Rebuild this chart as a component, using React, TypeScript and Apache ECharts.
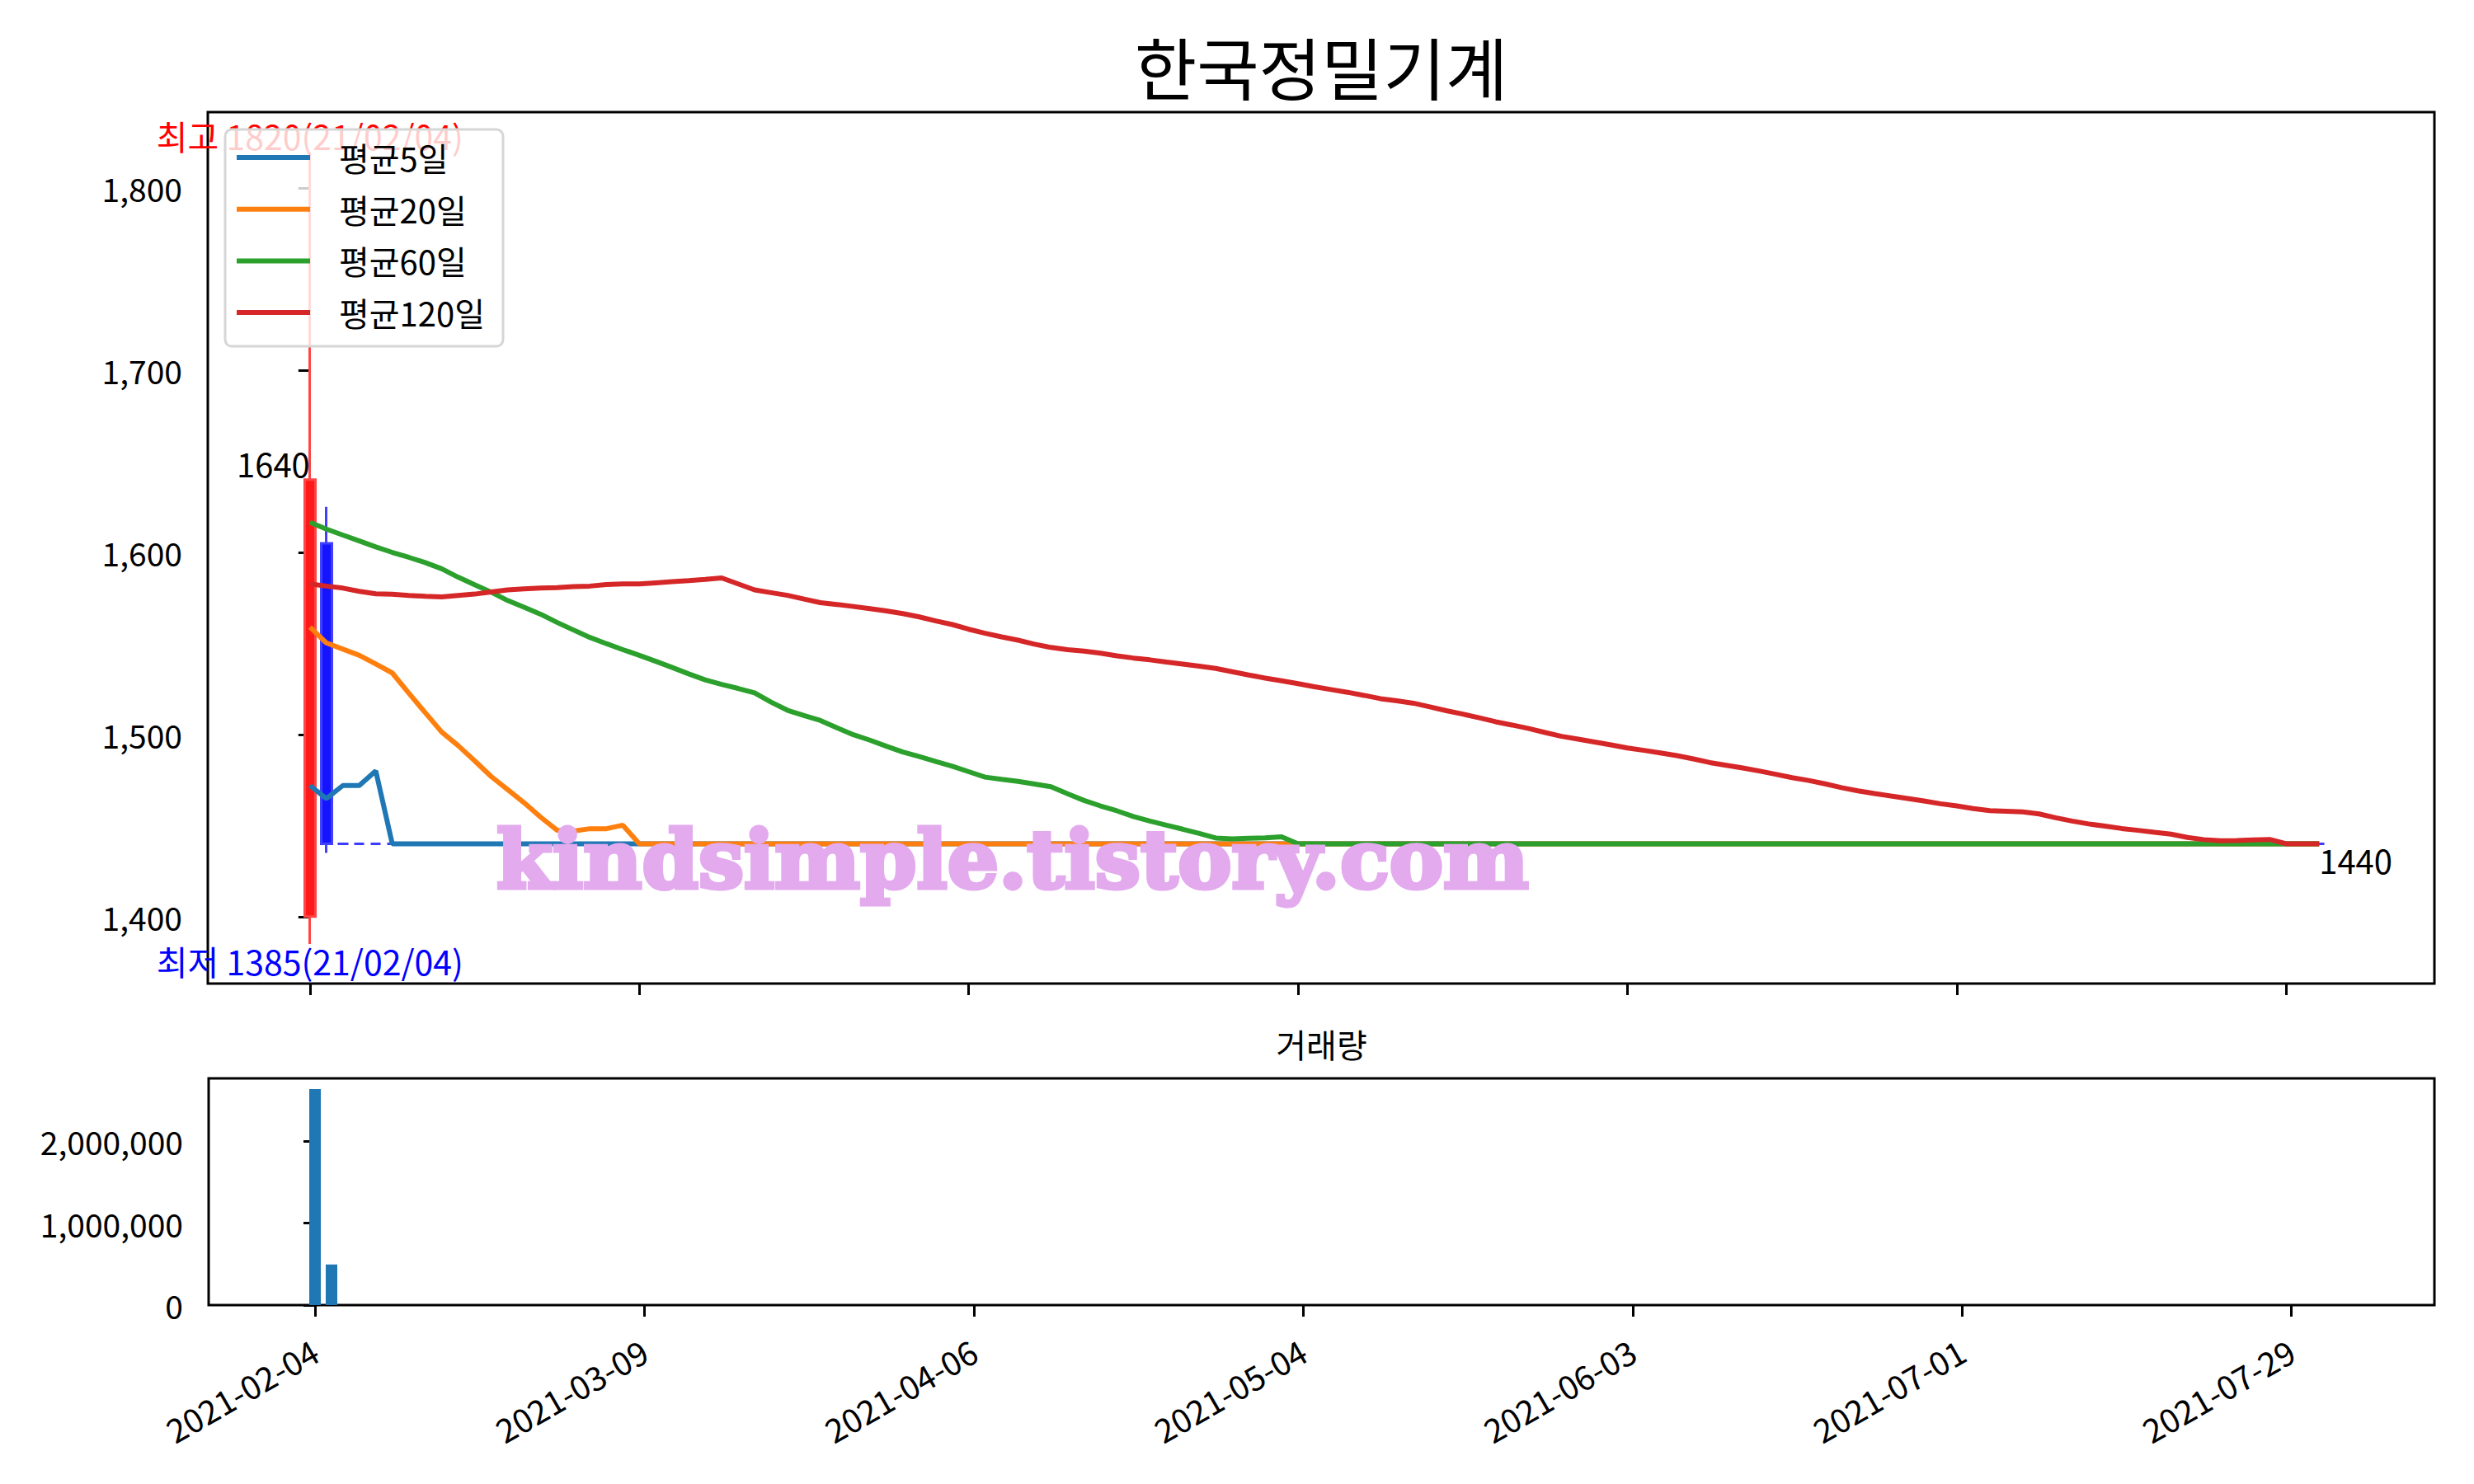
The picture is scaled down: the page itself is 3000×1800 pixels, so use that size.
import React, { useEffect, useRef } from 'react';
import * as echarts from 'echarts';

const TITLE = '한국정밀기계';
const VOLUME_TITLE = '거래량';
const WATERMARK = 'kindsimple.tistory.com';
const FIRST_DATE_SHORT = '21/02/04';

const TICK_INDEX = [0, 20, 40, 60, 80, 100, 120];
const TICK_LABELS = ['2021-02-04', '2021-03-09', '2021-04-06', '2021-05-04', '2021-06-03', '2021-07-01', '2021-07-29'];
const PRICE_TICKS = [1400, 1500, 1600, 1700, 1800];
const VOLUME_TICKS = [0, 1000000, 2000000];
const MA_NAMES = ['평균5일', '평균20일', '평균60일', '평균120일'];
const MA_COLORS = ['#1f77b4', '#ff7f0e', '#2ca02c', '#d62728'];

const OPEN = [1400, 1605,
  1440, 1440, 1440, 1440, 1440, 1440, 1440, 1440, 1440, 1440,
  1440, 1440, 1440, 1440, 1440, 1440, 1440, 1440, 1440, 1440,
  1440, 1440, 1440, 1440, 1440, 1440, 1440, 1440, 1440, 1440,
  1440, 1440, 1440, 1440, 1440, 1440, 1440, 1440, 1440, 1440,
  1440, 1440, 1440, 1440, 1440, 1440, 1440, 1440, 1440, 1440,
  1440, 1440, 1440, 1440, 1440, 1440, 1440, 1440, 1440, 1440,
  1440, 1440, 1440, 1440, 1440, 1440, 1440, 1440, 1440, 1440,
  1440, 1440, 1440, 1440, 1440, 1440, 1440, 1440, 1440, 1440,
  1440, 1440, 1440, 1440, 1440, 1440, 1440, 1440, 1440, 1440,
  1440, 1440, 1440, 1440, 1440, 1440, 1440, 1440, 1440, 1440,
  1440, 1440, 1440, 1440, 1440, 1440, 1440, 1440, 1440, 1440,
  1440, 1440, 1440, 1440, 1440, 1440, 1440, 1440, 1440, 1440,
  1440];
const CLOSE = [1640, 1440,
  1440, 1440, 1440, 1440, 1440, 1440, 1440, 1440, 1440, 1440,
  1440, 1440, 1440, 1440, 1440, 1440, 1440, 1440, 1440, 1440,
  1440, 1440, 1440, 1440, 1440, 1440, 1440, 1440, 1440, 1440,
  1440, 1440, 1440, 1440, 1440, 1440, 1440, 1440, 1440, 1440,
  1440, 1440, 1440, 1440, 1440, 1440, 1440, 1440, 1440, 1440,
  1440, 1440, 1440, 1440, 1440, 1440, 1440, 1440, 1440, 1440,
  1440, 1440, 1440, 1440, 1440, 1440, 1440, 1440, 1440, 1440,
  1440, 1440, 1440, 1440, 1440, 1440, 1440, 1440, 1440, 1440,
  1440, 1440, 1440, 1440, 1440, 1440, 1440, 1440, 1440, 1440,
  1440, 1440, 1440, 1440, 1440, 1440, 1440, 1440, 1440, 1440,
  1440, 1440, 1440, 1440, 1440, 1440, 1440, 1440, 1440, 1440,
  1440, 1440, 1440, 1440, 1440, 1440, 1440, 1440, 1440, 1440,
  1440];
const LOW = [1385, 1435,
  1440, 1440, 1440, 1440, 1440, 1440, 1440, 1440, 1440, 1440,
  1440, 1440, 1440, 1440, 1440, 1440, 1440, 1440, 1440, 1440,
  1440, 1440, 1440, 1440, 1440, 1440, 1440, 1440, 1440, 1440,
  1440, 1440, 1440, 1440, 1440, 1440, 1440, 1440, 1440, 1440,
  1440, 1440, 1440, 1440, 1440, 1440, 1440, 1440, 1440, 1440,
  1440, 1440, 1440, 1440, 1440, 1440, 1440, 1440, 1440, 1440,
  1440, 1440, 1440, 1440, 1440, 1440, 1440, 1440, 1440, 1440,
  1440, 1440, 1440, 1440, 1440, 1440, 1440, 1440, 1440, 1440,
  1440, 1440, 1440, 1440, 1440, 1440, 1440, 1440, 1440, 1440,
  1440, 1440, 1440, 1440, 1440, 1440, 1440, 1440, 1440, 1440,
  1440, 1440, 1440, 1440, 1440, 1440, 1440, 1440, 1440, 1440,
  1440, 1440, 1440, 1440, 1440, 1440, 1440, 1440, 1440, 1440,
  1440];
const HIGH = [1820, 1625,
  1440, 1440, 1440, 1440, 1440, 1440, 1440, 1440, 1440, 1440,
  1440, 1440, 1440, 1440, 1440, 1440, 1440, 1440, 1440, 1440,
  1440, 1440, 1440, 1440, 1440, 1440, 1440, 1440, 1440, 1440,
  1440, 1440, 1440, 1440, 1440, 1440, 1440, 1440, 1440, 1440,
  1440, 1440, 1440, 1440, 1440, 1440, 1440, 1440, 1440, 1440,
  1440, 1440, 1440, 1440, 1440, 1440, 1440, 1440, 1440, 1440,
  1440, 1440, 1440, 1440, 1440, 1440, 1440, 1440, 1440, 1440,
  1440, 1440, 1440, 1440, 1440, 1440, 1440, 1440, 1440, 1440,
  1440, 1440, 1440, 1440, 1440, 1440, 1440, 1440, 1440, 1440,
  1440, 1440, 1440, 1440, 1440, 1440, 1440, 1440, 1440, 1440,
  1440, 1440, 1440, 1440, 1440, 1440, 1440, 1440, 1440, 1440,
  1440, 1440, 1440, 1440, 1440, 1440, 1440, 1440, 1440, 1440,
  1440];
const VOLUME = [2636000, 496000,
  0, 0, 0, 0, 0, 0, 0, 0, 0, 0,
  0, 0, 0, 0, 0, 0, 0, 0, 0, 0,
  0, 0, 0, 0, 0, 0, 0, 0, 0, 0,
  0, 0, 0, 0, 0, 0, 0, 0, 0, 0,
  0, 0, 0, 0, 0, 0, 0, 0, 0, 0,
  0, 0, 0, 0, 0, 0, 0, 0, 0, 0,
  0, 0, 0, 0, 0, 0, 0, 0, 0, 0,
  0, 0, 0, 0, 0, 0, 0, 0, 0, 0,
  0, 0, 0, 0, 0, 0, 0, 0, 0, 0,
  0, 0, 0, 0, 0, 0, 0, 0, 0, 0,
  0, 0, 0, 0, 0, 0, 0, 0, 0, 0,
  0, 0, 0, 0, 0, 0, 0, 0, 0, 0,
  0];

const MA5 = [1472, 1464.8, 1472, 1472, 1480,
  1440, 1440, 1440, 1440, 1440,
  1440, 1440, 1440, 1440, 1440, 1440, 1440, 1440, 1440, 1440,
  1440, 1440, 1440, 1440, 1440, 1440, 1440, 1440, 1440, 1440,
  1440, 1440, 1440, 1440, 1440, 1440, 1440, 1440, 1440, 1440,
  1440, 1440, 1440, 1440, 1440, 1440, 1440, 1440, 1440, 1440,
  1440, 1440, 1440, 1440, 1440, 1440, 1440, 1440, 1440, 1440,
  1440, 1440, 1440, 1440, 1440, 1440, 1440, 1440, 1440, 1440,
  1440, 1440, 1440, 1440, 1440, 1440, 1440, 1440, 1440, 1440,
  1440, 1440, 1440, 1440, 1440, 1440, 1440, 1440, 1440, 1440,
  1440, 1440, 1440, 1440, 1440, 1440, 1440, 1440, 1440, 1440,
  1440, 1440, 1440, 1440, 1440, 1440, 1440, 1440, 1440, 1440,
  1440, 1440, 1440, 1440, 1440, 1440, 1440, 1440, 1440, 1440,
  1440, 1440, 1440];
const MA20 = [
  1559, 1550.3, 1546.9, 1543.5, 1538.7, 1533.8, 1522.8, 1512, 1501.4, 1493.9,
  1485.6, 1477, 1469.8, 1462.6, 1454.7, 1447.5, 1447, 1448.3, 1448.3, 1450.2,
  1440, 1440, 1440, 1440, 1440, 1440, 1440, 1440, 1440, 1440,
  1440, 1440, 1440, 1440, 1440, 1440, 1440, 1440, 1440, 1440,
  1440, 1440, 1440, 1440, 1440, 1440, 1440, 1440, 1440, 1440,
  1440, 1440, 1440, 1440, 1440, 1440, 1440, 1440, 1440, 1440,
  1440, 1440, 1440, 1440, 1440, 1440, 1440, 1440, 1440, 1440,
  1440, 1440, 1440, 1440, 1440, 1440, 1440, 1440, 1440, 1440,
  1440, 1440, 1440, 1440, 1440, 1440, 1440, 1440, 1440, 1440,
  1440, 1440, 1440, 1440, 1440, 1440, 1440, 1440, 1440, 1440,
  1440, 1440, 1440, 1440, 1440, 1440, 1440, 1440, 1440, 1440,
  1440, 1440, 1440, 1440, 1440, 1440, 1440, 1440, 1440, 1440,
  1440, 1440, 1440];
const MA60 = [
  1616.5, 1612.8, 1609.5, 1606.3, 1603, 1600, 1597.3, 1594.4, 1591, 1586.4,
  1582.2, 1578.2, 1573.6, 1569.9, 1566.1, 1561.6, 1557.4, 1553.3, 1549.9, 1546.6,
  1543.5, 1540.2, 1536.8, 1533.3, 1530, 1527.5, 1525.3, 1522.9, 1517.8, 1513.3,
  1510.4, 1507.7, 1503.7, 1499.9, 1496.9, 1493.6, 1490.4, 1487.9, 1485.2, 1482.6,
  1479.6, 1476.6, 1475.4, 1474.3, 1472.8, 1471.3, 1467.5, 1463.8, 1460.8, 1458.1,
  1455, 1452.5, 1450.2, 1448, 1445.7, 1443.2, 1442.7, 1443, 1443.3, 1443.8,
  1440, 1440, 1440, 1440, 1440, 1440, 1440, 1440, 1440, 1440,
  1440, 1440, 1440, 1440, 1440, 1440, 1440, 1440, 1440, 1440,
  1440, 1440, 1440, 1440, 1440, 1440, 1440, 1440, 1440, 1440,
  1440, 1440, 1440, 1440, 1440, 1440, 1440, 1440, 1440, 1440,
  1440, 1440, 1440, 1440, 1440, 1440, 1440, 1440, 1440, 1440,
  1440, 1440, 1440, 1440, 1440, 1440, 1440, 1440, 1440, 1440,
  1440, 1440, 1440];
const MA120 = [
  1582.7, 1581.5, 1580.4, 1578.6, 1577.3, 1577, 1576.4, 1575.9, 1575.6, 1576.4,
  1577.1, 1578.3, 1579.4, 1580, 1580.4, 1580.7, 1581.2, 1581.5, 1582.4, 1582.7,
  1582.7, 1583.3, 1583.9, 1584.5, 1585.2, 1586, 1582.7, 1579.4, 1577.9, 1576.4,
  1574.4, 1572.4, 1571.4, 1570.3, 1569.1, 1567.9, 1566.4, 1564.6, 1562.4, 1560.4,
  1557.8, 1555.6, 1553.6, 1551.8, 1549.6, 1547.8, 1546.6, 1545.8, 1544.7, 1543.2,
  1542, 1541, 1539.8, 1538.7, 1537.5, 1536.3, 1534.5, 1532.7, 1531, 1529.5,
  1527.9, 1526.2, 1524.7, 1523.2, 1521.5, 1519.7, 1518.5, 1517.2, 1515.2, 1513.1,
  1511.2, 1509.2, 1507, 1505.2, 1503.3, 1501.1, 1499, 1497.5, 1495.9, 1494.3,
  1492.6, 1491.3, 1489.9, 1488.4, 1486.6, 1484.6, 1483.1, 1481.6, 1480, 1478.2,
  1476.3, 1474.8, 1472.9, 1470.8, 1469.1, 1467.6, 1466.2, 1464.9, 1463.5, 1462,
  1460.8, 1459.3, 1458.2, 1457.9, 1457.5, 1456.4, 1454.3, 1452.5, 1450.9, 1449.7,
  1448.4, 1447.4, 1446.3, 1445.3, 1443.5, 1442.3, 1441.7, 1441.8, 1442.1, 1442.4,
  1440, 1440, 1440];
const MA_LIST = [MA5, MA20, MA60, MA120];

const FONT = "'Noto Sans CJK KR', 'Noto Sans', sans-serif";
const MAIN = { left: 252, top: 136, width: 2700, height: 1057 };
const VOL = { left: 253, top: 1308, width: 2699, height: 275 };
const LABEL_SIZE = 39;

const fmt = (v: number) => Math.round(v).toLocaleString('en-US');

function buildOption(): any {
  const n = CLOSE.length;
  const priceMin = Math.min(...LOW);
  const priceMax = Math.max(...HIGH);
  const pad = (priceMax - priceMin) * 0.05;
  const volMax = Math.max(...VOLUME) * 1.05;
  const axisLineStyle = { color: '#000', width: 3 };
  const tickCommon = { show: true, length: 14, inside: false, lineStyle: axisLineStyle };
  return {
    animation: false,
    backgroundColor: '#ffffff',
    grid: [
      { ...MAIN, show: true, borderColor: '#000', borderWidth: 3, backgroundColor: 'transparent' },
      { ...VOL, show: true, borderColor: '#000', borderWidth: 3, backgroundColor: 'transparent' },
    ],
    legend: {
      orient: 'vertical',
      left: 273,
      top: 157,
      z: 10,
      data: MA_NAMES,
      icon: 'rect',
      itemWidth: 89,
      itemHeight: 6,
      itemGap: 22.7,
      padding: [14, 22, 21, 14],
      backgroundColor: 'rgba(255,255,255,0.8)',
      borderColor: '#d6d6d6',
      borderWidth: 3,
      borderRadius: 8,
      textStyle: { fontFamily: FONT, fontSize: 40, color: '#000', padding: [0, 0, 0, 30] },
    },
    xAxis: [
      {
        type: 'value', gridIndex: 0, min: -6.2, max: n - 1 + 7,
        axisLine: { show: false },
        axisTick: { ...tickCommon, customValues: TICK_INDEX },
        axisLabel: { show: false },
        splitLine: { show: false },
      },
      {
        type: 'value', gridIndex: 1, min: -6.46, max: 128.68,
        axisLine: { show: false },
        axisTick: { ...tickCommon, customValues: TICK_INDEX },
        axisLabel: {
          customValues: TICK_INDEX,
          rotate: 30,
          margin: 52,
          fontFamily: FONT,
          fontSize: 40,
          color: '#000',
          formatter: (v: number) => TICK_LABELS[TICK_INDEX.indexOf(v)] ?? '',
        },
        splitLine: { show: false },
      },
    ],
    yAxis: [
      {
        type: 'value', gridIndex: 0, min: priceMin - pad, max: priceMax + pad,
        axisLine: { show: false },
        axisTick: { ...tickCommon, customValues: PRICE_TICKS },
        axisLabel: { customValues: PRICE_TICKS, margin: 31, fontFamily: FONT, fontSize: LABEL_SIZE, color: '#000', formatter: fmt },
        splitLine: { show: false },
      },
      {
        type: 'value', gridIndex: 1, min: 0, max: volMax,
        axisLine: { show: false },
        axisTick: { ...tickCommon, customValues: VOLUME_TICKS },
        axisLabel: { customValues: VOLUME_TICKS, margin: 31, fontFamily: FONT, fontSize: LABEL_SIZE, color: '#000', formatter: fmt },
        splitLine: { show: false },
      },
    ],
    series: [
      {
        type: 'candlestick',
        name: '가격',
        xAxisIndex: 0,
        yAxisIndex: 0,
        barWidth: 13,
        encode: { x: 0, y: [1, 2, 3, 4] },
        itemStyle: {
          color: '#ff1a1a',
          color0: '#1414ff',
          borderColor: '#ff4545',
          borderColor0: '#4040ff',
          borderColorDoji: '#3c3cff',
          borderWidth: 3,
        },
        data: CLOSE.map((c, i) => [i, OPEN[i], c, LOW[i], HIGH[i]]),
      },
      ...MA_LIST.map((ma, k) => ({
        type: 'line',
        name: MA_NAMES[k],
        xAxisIndex: 0,
        yAxisIndex: 0,
        showSymbol: false,
        symbol: 'none',
        color: MA_COLORS[k],
        lineStyle: { color: MA_COLORS[k], width: 6 },
        data: ma.map((v, i) => [i, v]),
      })),
      {
        type: 'bar',
        name: VOLUME_TITLE,
        xAxisIndex: 1,
        yAxisIndex: 1,
        barWidth: 14,
        itemStyle: { color: '#1f77b4' },
        data: VOLUME.map((v, i) => [i, v]),
      },
    ],
  };
}

export default function App() {
  const ref = useRef<HTMLDivElement>(null);
  useEffect(() => {
    document.body.style.margin = '0';
    const chart = echarts.init(ref.current!, null, { renderer: 'svg' });
    chart.setOption(buildOption());

    const px = (x: number, y: number) => chart.convertToPixel({ gridIndex: 0 }, [x, y]) as number[];
    const hiVal = Math.max(...HIGH);
    const hiIdx = HIGH.indexOf(hiVal);
    const loVal = Math.min(...LOW);
    const loIdx = LOW.indexOf(loVal);
    const last = CLOSE.length - 1;
    const pHi = px(hiIdx, hiVal);
    const pLo = px(loIdx, loVal);
    const pFirst = px(0, CLOSE[0]);
    const pLast = px(last, CLOSE[last]);
    const txt = (fontSize: number, color: string) => ({ fontFamily: FONT, fontSize, fill: color });

    chart.setOption({
      graphic: [
        {
          type: 'text', x: MAIN.left + MAIN.width / 2, y: 79, z: 5,
          style: { ...txt(82, '#000'), text: TITLE, align: 'center', verticalAlign: 'middle' },
        },
        {
          type: 'text', x: VOL.left + VOL.width / 2, y: 1266, z: 5,
          style: { ...txt(40, '#000'), text: VOLUME_TITLE, align: 'center', verticalAlign: 'middle' },
        },
        {
          type: 'text', x: pHi[0], y: pHi[1], z: 3,
          style: { ...txt(41, '#ff0000'), text: `최고 ${hiVal}(${FIRST_DATE_SHORT})`, align: 'center', verticalAlign: 'bottom' },
        },
        {
          type: 'text', x: pLo[0], y: pLo[1], z: 3,
          style: { ...txt(41, '#0000ff'), text: `최저 ${loVal}(${FIRST_DATE_SHORT})`, align: 'center', verticalAlign: 'top' },
        },
        {
          type: 'text', x: pFirst[0], y: pFirst[1], z: 3,
          style: { ...txt(40, '#000'), text: String(CLOSE[0]), align: 'right', verticalAlign: 'bottom' },
        },
        {
          type: 'text', x: pLast[0], y: pLast[1], z: 3,
          style: { ...txt(40, '#000'), text: String(CLOSE[last]), align: 'left', verticalAlign: 'top' },
        },
        {
          type: 'text', x: 602, y: 1042, z: 50,
          style: {
            text: WATERMARK, fill: '#e3aaee', stroke: '#e3aaee', lineWidth: 5,
            fontFamily: "'DejaVu Serif', serif", fontWeight: 'bold',
            fontSize: 98, align: 'left', verticalAlign: 'middle',
          },
        },
      ],
    });
    return () => chart.dispose();
  }, []);
  return <div ref={ref} style={{ width: 3000, height: 1800 }} />;
}
